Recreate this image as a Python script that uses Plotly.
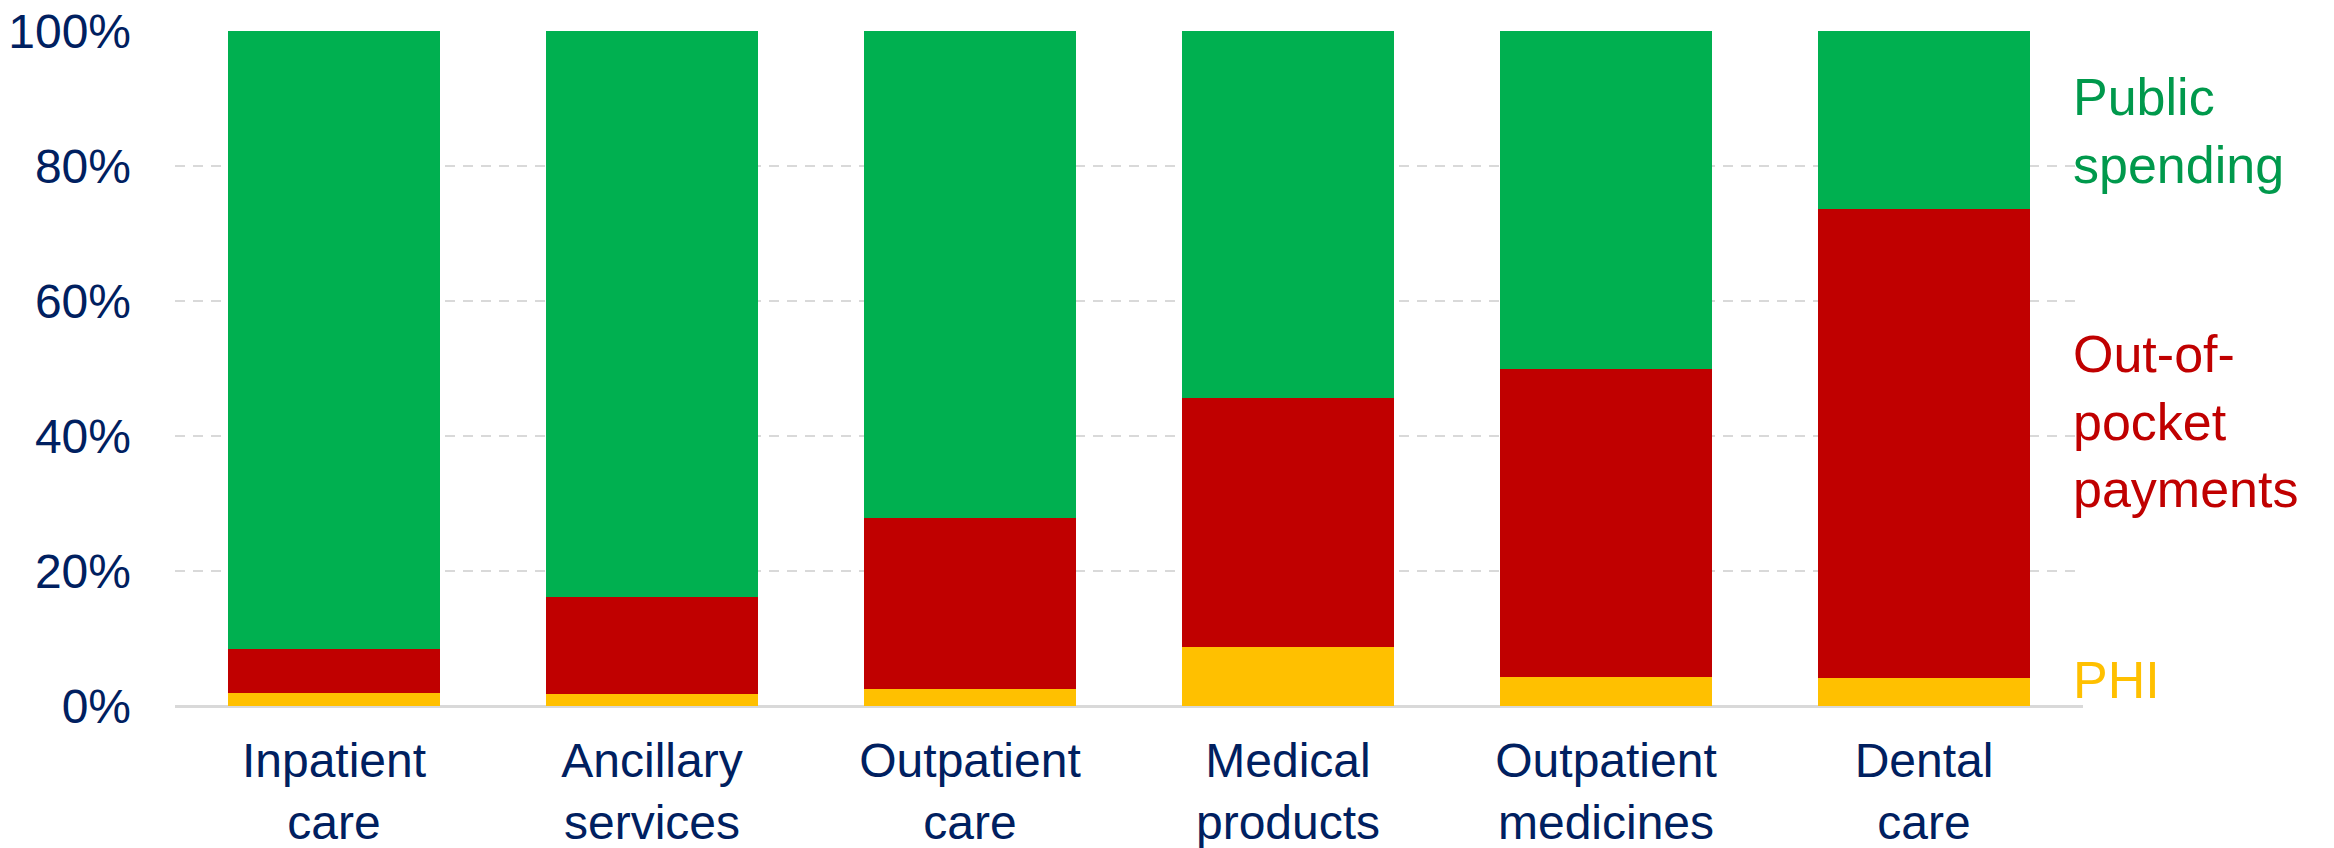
import plotly.graph_objects as go

# Health spending by type of care, split by financing source (share of total, %)
categories = ["Inpatient care", "Ancillary services", "Outpatient care",
              "Medical products", "Outpatient medicines", "Dental care"]
tick_labels = ["Inpatient<br>care", "Ancillary<br>services", "Outpatient<br>care",
               "Medical<br>products", "Outpatient<br>medicines", "Dental<br>care"]
phi = [2.0, 1.8, 2.5, 8.7, 4.3, 4.2]
out_of_pocket = [6.4, 14.4, 25.3, 37.0, 45.6, 69.5]
public = [91.6, 83.8, 72.2, 54.3, 50.1, 26.3]
y_ticks = [0, 20, 40, 60, 80, 100]
y_tick_labels = [f"{v}%" for v in y_ticks]

NAVY = "#002060"
GREEN = "#00B050"
RED = "#C00000"
YELLOW = "#FFC000"
FONT = "Liberation Sans, Arial, sans-serif"

fig = go.Figure()
for name, vals, col in [("PHI", phi, YELLOW),
                        ("Out-of-pocket payments", out_of_pocket, RED),
                        ("Public spending", public, GREEN)]:
    fig.add_trace(go.Bar(x=categories, y=vals, name=name,
                         marker=dict(color=col, line=dict(width=0))))

# Series labels to the right of the last bar
side_labels = [
    ("Public<br>spending", 85.2, "#00994C"),
    ("Out-of-<br>pocket<br>payments", 42.2, RED),
    ("PHI", 3.9, YELLOW),
]
for text, yv, col in side_labels:
    fig.add_annotation(text=text, xref="paper", x=1, xanchor="left", xshift=-12,
                       yref="y", y=yv, yanchor="middle", showarrow=False,
                       align="left", font=dict(family=FONT, size=52, color=col))

fig.update_layout(
    width=2334, height=848,
    margin=dict(l=175, r=251, t=31, b=142, autoexpand=False),
    barmode="stack", bargap=1/3,
    showlegend=False,
    paper_bgcolor="white", plot_bgcolor="white",
    font=dict(family=FONT, color=NAVY, size=48),
)
fig.update_xaxes(
    tickmode="array", tickvals=categories, ticktext=tick_labels,
    range=[-0.5, 5.5], showgrid=False, showline=False, ticks="",
    tickfont=dict(family=FONT, size=48, color=NAVY), ticklabelstandoff=22,
    automargin=False,
)
fig.update_yaxes(
    range=[0, 100], tickmode="array", tickvals=y_ticks, ticktext=y_tick_labels,
    showgrid=True, gridcolor="#D9D9D9", gridwidth=2, griddash="10px,8px",
    zeroline=True, zerolinecolor="#D9D9D9", zerolinewidth=3,
    showline=False, ticks="",
    tickfont=dict(family=FONT, size=48, color=NAVY), ticklabelstandoff=43,
    automargin=False,
)

fig.write_html("out.html")
